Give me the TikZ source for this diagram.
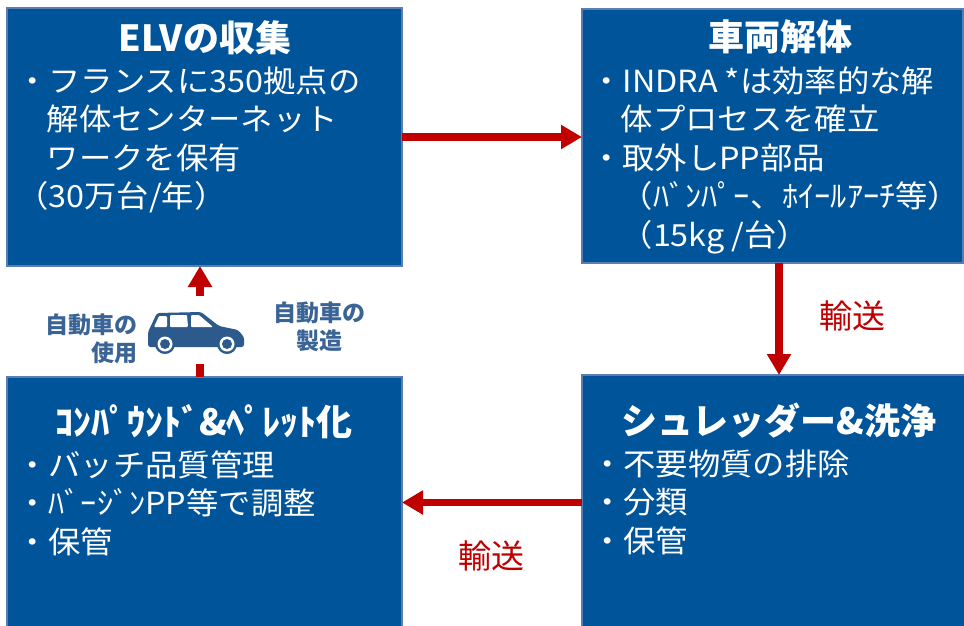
\documentclass[tikz,border=0pt]{standalone}
\usepackage{fontspec}
\setmainfont{Noto Sans CJK JP}
\newfontfamily\bodyfont{Noto Sans CJK JP}[FakeStretch=1.06]
\usetikzlibrary{arrows.meta}
\definecolor{boxblue}{HTML}{00549A}
\definecolor{boxline}{HTML}{5B7DB1}
\definecolor{arrred}{HTML}{C00000}
\definecolor{carblue}{HTML}{2C5A8C}
\definecolor{lblblue}{HTML}{3A6496}
\begin{document}
\begin{tikzpicture}[x=1pt,y=-1pt,
  box/.style={draw=boxline, line width=1.2pt, fill=boxblue, anchor=north west, inner sep=0pt, outer sep=0pt},
  ttl/.style={text=white, font=\fontsize{36}{40}\selectfont\bfseries, anchor=base, inner sep=0pt},
  body/.style={text=white, font=\bodyfont\fontsize{30.5}{38.5}\selectfont, align=left, anchor=base west, inner sep=0pt},
  arr/.style={draw=arrred, line width=7.5pt, -{Triangle[length=21pt,width=23pt]}},
  lbl/.style={text=arrred, font=\fontsize{33}{36}\selectfont, inner sep=0pt},
  carlbl/.style={text=lblblue, font=\fontsize{23}{28}\selectfont\bfseries, inner sep=0pt}
]
\path[use as bounding box] (0,0) rectangle (964,625);
\clip (0,0) rectangle (964,625);
\fill[white] (0,0) rectangle (964,625);

% boxes
\node[box, minimum width=395pt, minimum height=258pt] (A) at (7,8) {};
\node[box, minimum width=381pt, minimum height=254pt] (B) at (582,9) {};
\node[box, minimum width=400pt, minimum height=255pt] (C) at (582,375) {};
\node[box, minimum width=395pt, minimum height=250pt] (D) at (7,377) {};

% arrows
\draw[arr] (A.east) -- (A.east -| B.west);
\draw[arr] ([xshift=6.5pt]B.south) -- ([xshift=6.5pt]B.south |- C.north);
\draw[arr] (C.west) -- (C.west -| D.east);
\draw[arr] ([xshift=-4.5pt]D.north) -- ([xshift=-4.5pt]D.north |- A.south);

% photo backdrop
\node[fill=white, minimum width=235pt, minimum height=68pt, anchor=north west, inner sep=0pt, outer sep=0pt] (photo) at (30,296) {};

% car
\fill[carblue, rounded corners=2.5pt] (148,347) -- (148,332) -- (157,313) -- (201,312) -- (219,326) -- (238,330) -- (244,337) -- (244,347) -- cycle;
\fill[white, rounded corners=1pt] (159,316) -- (167,316) -- (167,327) -- (154,327) -- cycle;
\fill[white, rounded corners=1pt] (170,315) -- (187,315) -- (188,327) -- (170,327) -- cycle;
\fill[white, rounded corners=1pt] (191,315) -- (199,315) -- (213,327) -- (191,327) -- cycle;
\foreach \wx in {165,227}{
  \fill[carblue] (\wx,344) circle[radius=10pt];
  \fill[white] (\wx,344) circle[radius=7.5pt];
  \fill[carblue] (\wx,344) circle[radius=5pt];
}

% car labels (anchor at baseline of last line)
\node[carlbl, align=right, anchor=base east] (use) at (138,361) {自動車の\\使用};
\node[carlbl, align=center, anchor=base] (make) at (319,349) {自動車の\\製造};

% box texts
\node[ttl] (tA) at (205,51) {ELVの収集};
\node[body] (bA) at (16,207.5) {・フランスに350拠点の\\\hspace*{1em}解体センターネット\\\hspace*{1em}ワークを保有\\（30万台/年）};

\node[ttl] (tB) at (780,50) {車両解体};
\node[body] (bB) at (590,246) {・INDRA *は効率的な解\\\hspace*{1em}体プロセスを確立\\・取外しPP部品\\\hspace*{1em}（ﾊﾞﾝﾊﾟｰ、ﾎｲｰﾙｱｰﾁ等）\\\hspace*{1em}（15kg /台）};

\node[ttl] (tC) at (779,434) {シュレッダー\&洗浄};
\node[body] (bC) at (591,552) {・不要物質の排除\\・分類\\・保管};

\node[ttl] (tD) at (204,435) {ｺﾝﾊﾟｳﾝﾄﾞ\&ﾍﾟﾚｯﾄ化};
\node[body] (bD) at (16,553) {・バッチ品質管理\\・ﾊﾞｰｼﾞﾝPP等で調整\\・保管};

% transport labels
\node[lbl] (t1) at (852,316) {輸送};
\node[lbl] (t2) at (491,556) {輸送};
\end{tikzpicture}
\end{document}
